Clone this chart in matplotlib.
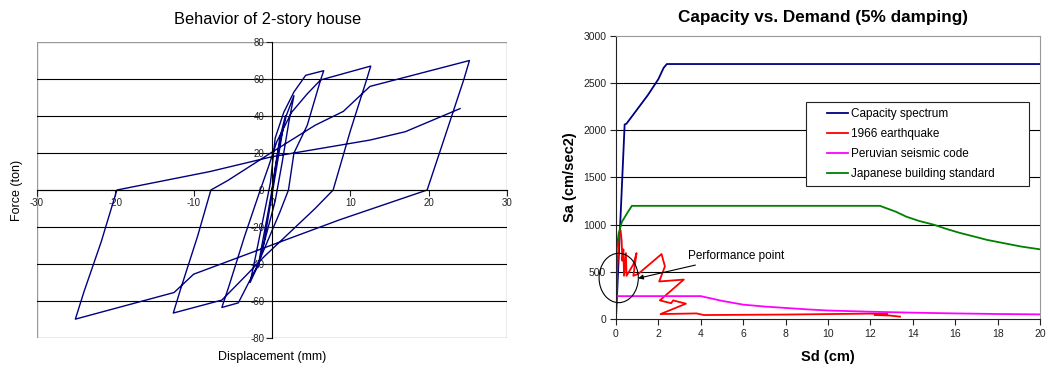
import matplotlib
matplotlib.use("Agg")
import matplotlib.pyplot as plt
from matplotlib.patches import Ellipse, Rectangle
from matplotlib.legend_handler import HandlerLine2D
import numpy as np

plt.rcParams['font.family'] = ['Liberation Sans', 'DejaVu Sans']
plt.rcParams['axes.unicode_minus'] = False

# hysteresis loops of the 2-story house (mm, ton)
disp = [0.0, 0.4, 1.0, 1.7, 1.2, 0.5, -0.3, -1.0, -1.8, -1.3, -0.5, 0.2, 0.8, 1.8, 2.8,
        2.2, 1.3, 0.4, -0.6, -1.7, -2.8, -2.2, -1.2, -0.2, 0.4, 1.5, 2.8, 4.3, 6.6,
        6.2, 4.5, 2.8, 2.1, 1.0, -0.3, -2.0, -4.3, -6.4, -5.5, -3.5, -1.5, -0.5, 0.6,
        2.5, 4.5, 6.2, 12.6, 12.1, 10.0, 7.8, 5.5, 2.5, -1.0, -3.5, -6.4, -12.6,
        -11.7, -9.5, -7.8, -5.7, 0.2, 5.5, 9.1, 12.5, 25.2, 24.5, 22.0, 19.8, 8.7,
        -0.2, -10.0, -12.5, -25.1, -24.0, -21.8, -19.8, -7.9, 0.0, 12.5, 17.0, 24.0]
force = [0, 12, 28, 40, 28, 10, -10, -28, -42, -30, -12, 5, 22, 40, 51,
         38, 15, -6, -22, -40, -50, -38, -17, 4, 28, 42, 53, 62, 64.5,
         59.5, 35, 20, 0, -12, -25, -42, -61, -63.5, -52, -25, 0, 12, 26,
         42, 52, 59.5, 67, 60, 32, 0, -10, -22, -36, -47, -59.5, -66.5,
         -54, -25, 0, 5, 21, 35, 42.5, 56, 70, 60, 28, 0, -16,
         -30, -45.5, -55.4, -69.8, -55, -28, 0, 10, 18, 27, 31.5, 44]

# capacity vs demand (Sd in cm, Sa in cm/sec2)
cap_sd = [0, 0.2, 0.41, 0.5, 0.6, 0.8, 1.0, 1.5, 2.0, 2.25, 2.4, 20]
cap_sa = [0, 1000, 2060, 2070, 2100, 2160, 2220, 2370, 2540, 2660, 2700, 2700]

eq_sd = [0.03, 0.05, 0.15, 0.22, 0.27, 0.30, 0.35, 0.38, 0.47, 0.50, 0.82, 0.97, 0.82,
         1.05, 2.15, 2.31, 2.04, 3.2, 2.07, 2.6, 2.7, 3.3, 2.1, 3.8, 4.15, 8.0, 12.0,
         12.8, 12.2, 12.9, 13.4]
eq_sa = [240, 500, 880, 940, 830, 620, 740, 460, 700, 460, 580, 700, 460,
         480, 690, 560, 400, 420, 200, 170, 200, 165, 55, 62, 45, 50, 60,
         55, 45, 40, 28]

peru_sd = [0, 4.0, 5, 6, 7, 8, 9, 10, 12, 14, 16, 18, 20]
peru_sa = [245, 245, 195, 155, 135, 120, 105, 93, 80, 70, 62, 56, 52]

jp_sd = [0, 0.13, 0.28, 0.52, 0.75, 12.45, 13.2, 13.7, 14.3, 15.0, 15.6, 16.2, 16.9,
         17.5, 18.3, 19.1, 20]
jp_sa = [700, 910, 1030, 1120, 1200, 1200, 1138, 1085, 1040, 1000, 955, 915, 875,
         840, 805, 770, 740]


class GapLine(HandlerLine2D):
    # legend line drawn only on the right part of the handle box
    def get_xdata(self, legend, xdescent, ydescent, width, height, fontsize):
        xd = np.array([-xdescent + width * 0.42, -xdescent + width])
        return xd, xd


fig = plt.figure(figsize=(10.47, 3.67), dpi=100)

# ---- left: hysteresis ----
ax1 = fig.add_axes([0.0353, 0.079, 0.449, 0.8065])
ax1.plot(disp, force, color="#000080", lw=1.0)
ax1.set_xlim(-30, 30)
ax1.set_ylim(-80, 80)
ax1.set_xticks(range(-30, 31, 10))
ax1.set_yticks(range(-80, 81, 20))
ax1.spines['left'].set_position('zero')
ax1.spines['bottom'].set_position('zero')
ax1.spines['top'].set_visible(False)
ax1.spines['right'].set_visible(False)
ax1.add_patch(Rectangle((0, 0), 1, 1, transform=ax1.transAxes, fill=False,
                        ec="#999999", lw=1.0, zorder=0))
ax1.grid(axis='y', color='black', lw=0.8)
gl = ax1.get_ygridlines()
gl[0].set_visible(False)
gl[-1].set_visible(False)
ax1.tick_params(direction='out', length=4, width=0.8, labelsize=7, pad=1.5,
                colors='#222222')
ax1.set_title("Behavior of 2-story house", fontsize=11.8, pad=13, x=0.49)
ax1.set_xlabel("Displacement (mm)", fontsize=9)
ax1.set_ylabel("Force (ton)", fontsize=9)
ax1.xaxis.set_label_coords(0.5, -0.045)
ax1.yaxis.set_label_coords(-0.03, 0.5)

# ---- right: capacity vs demand ----
ax2 = fig.add_axes([0.5883, 0.130, 0.405, 0.7728])
ax2.plot(cap_sd, cap_sa, color="#000080", lw=1.3, label="Capacity spectrum")
ax2.plot(eq_sd, eq_sa, color="#ff0000", lw=1.3, label="1966 earthquake")
ax2.plot(peru_sd, peru_sa, color="#ff00ff", lw=1.3, label="Peruvian seismic code")
ax2.plot(jp_sd, jp_sa, color="#008000", lw=1.3, label="Japanese building standard")
ax2.set_xlim(0, 20)
ax2.set_ylim(0, 3000)
ax2.set_xticks(range(0, 21, 2))
ax2.set_yticks(range(0, 3001, 500))
ax2.grid(axis='y', color='black', lw=0.8)
ax2.get_ygridlines()[0].set_visible(False)
ax2.get_ygridlines()[-1].set_visible(False)
ax2.spines['top'].set_color('#999999')
ax2.spines['right'].set_color('#999999')
ax2.spines['left'].set_color('#222222')
ax2.spines['bottom'].set_color('#222222')
ax2.tick_params(direction='out', length=4, width=0.8, labelsize=7.5, pad=3,
                colors='#222222')
ax2.set_title("Capacity vs. Demand (5% damping)", fontsize=12.3, fontweight='bold',
              pad=10, x=0.488)
ax2.set_xlabel("Sd (cm)", fontsize=10.5, fontweight='bold')
ax2.set_ylabel("Sa (cm/sec2)", fontsize=10.5, fontweight='bold')
ax2.xaxis.set_label_coords(0.5, -0.108)
ax2.yaxis.set_label_coords(-0.092, 0.5)

leg = ax2.legend(loc='upper left', bbox_to_anchor=(0.448, 0.765, 0.526, 0),
                 mode='expand', borderaxespad=0, fontsize=8.5, frameon=True,
                 fancybox=False, edgecolor='#222222', framealpha=1,
                 handlelength=3.1, handletextpad=0.25, borderpad=0.45,
                 labelspacing=0.7, handler_map={plt.Line2D: GapLine()})
leg.get_frame().set_linewidth(0.8)

ax2.add_patch(Ellipse((0.13, 437), 1.85, 522, fill=False, ec='black', lw=0.8,
                      clip_on=False, zorder=5))
ax2.annotate("Performance point", xy=(1.05, 434), xytext=(3.4, 673),
             fontsize=8.5, va='center',
             arrowprops=dict(arrowstyle='-|>', color='black', lw=0.8,
                             mutation_scale=7, shrinkA=2, shrinkB=0))

fig.savefig("out.png", dpi=100)
